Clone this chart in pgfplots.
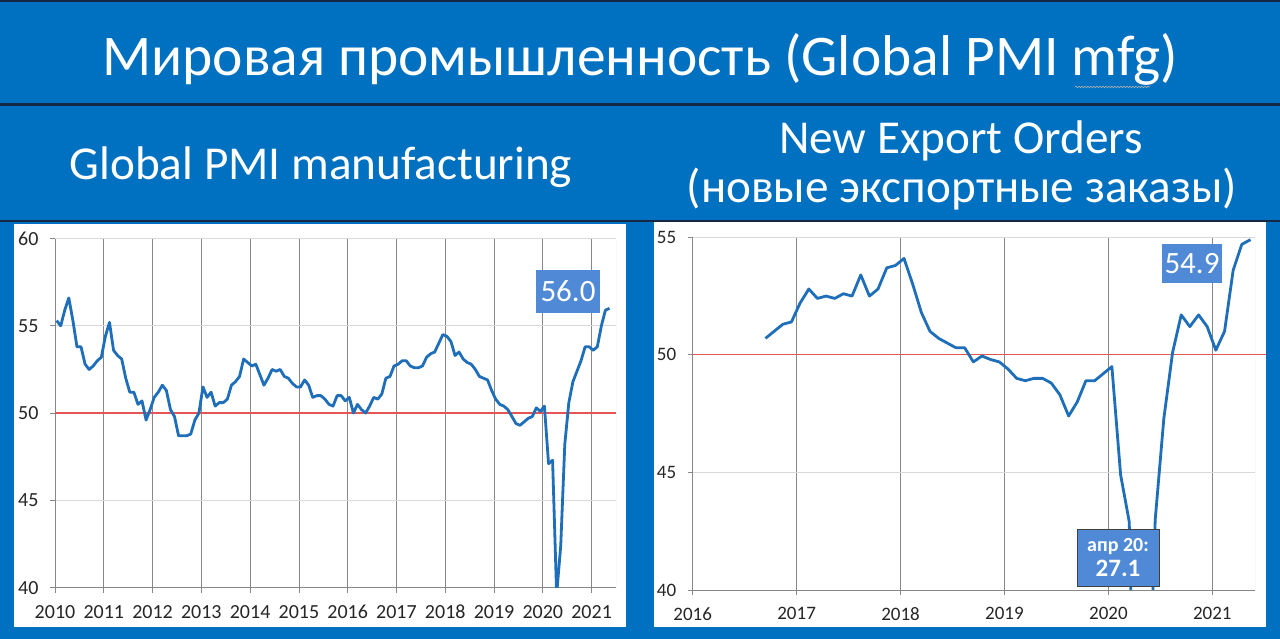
\documentclass[border=0pt]{standalone}
\usepackage{pgfplots}
\pgfplotsset{compat=1.18}
\usepackage{pgfplotstable}
\usepackage{fontspec}
\setmainfont{Carlito}
\usetikzlibrary{decorations.pathmorphing}
\definecolor{bg}{RGB}{0,112,192}
\definecolor{darkline}{RGB}{20,40,70}
\definecolor{series}{RGB}{30,110,185}
\definecolor{boxblue}{RGB}{80,138,214}
\definecolor{refred}{RGB}{230,85,85}
\definecolor{vgrid}{RGB}{135,135,135}
\definecolor{hgrid}{RGB}{217,217,217}

\pgfplotstableread{
x y
2010.033 55.3
2010.117 55.0
2010.200 55.9
2010.283 56.6
2010.367 55.3
2010.450 53.8
2010.533 53.8
2010.617 52.8
2010.700 52.5
2010.783 52.7
2010.867 53.0
2010.950 53.2
2011.033 54.4
2011.117 55.2
2011.200 53.6
2011.283 53.3
2011.367 53.1
2011.450 52.0
2011.533 51.2
2011.617 51.2
2011.700 50.5
2011.783 50.7
2011.867 49.6
2011.950 50.2
2012.033 50.9
2012.117 51.2
2012.200 51.6
2012.283 51.3
2012.367 50.2
2012.450 49.8
2012.533 48.7
2012.617 48.7
2012.700 48.7
2012.783 48.8
2012.867 49.6
2012.950 50.0
2013.033 51.5
2013.117 50.9
2013.200 51.2
2013.283 50.4
2013.367 50.6
2013.450 50.6
2013.533 50.8
2013.617 51.6
2013.700 51.8
2013.783 52.1
2013.867 53.1
2013.950 52.9
2014.033 52.7
2014.117 52.8
2014.200 52.2
2014.283 51.6
2014.367 52.0
2014.450 52.5
2014.533 52.4
2014.617 52.5
2014.700 52.1
2014.783 52.0
2014.867 51.7
2014.950 51.5
2015.033 51.5
2015.117 51.9
2015.200 51.6
2015.283 50.9
2015.367 51.0
2015.450 51.0
2015.533 50.8
2015.617 50.5
2015.700 50.4
2015.783 51.0
2015.867 51.0
2015.950 50.7
2016.033 50.9
2016.117 50.0
2016.200 50.5
2016.283 50.2
2016.367 50.0
2016.450 50.4
2016.533 50.9
2016.617 50.8
2016.700 51.1
2016.783 52.0
2016.867 52.1
2016.950 52.7
2017.033 52.8
2017.117 53.0
2017.200 53.0
2017.283 52.7
2017.367 52.6
2017.450 52.6
2017.533 52.7
2017.617 53.2
2017.700 53.4
2017.783 53.5
2017.867 54.0
2017.950 54.5
2018.033 54.4
2018.117 54.1
2018.200 53.3
2018.283 53.5
2018.367 53.1
2018.450 52.9
2018.533 52.8
2018.617 52.5
2018.700 52.1
2018.783 52.0
2018.867 51.9
2018.950 51.3
2019.033 50.8
2019.117 50.5
2019.200 50.4
2019.283 50.2
2019.367 49.8
2019.450 49.4
2019.533 49.3
2019.617 49.5
2019.700 49.7
2019.783 49.8
2019.867 50.3
2019.950 50.1
2020.033 50.4
2020.117 47.1
2020.200 47.3
2020.283 39.6
2020.367 42.4
2020.450 48.2
2020.533 50.6
2020.617 51.8
2020.700 52.4
2020.783 53.0
2020.867 53.8
2020.950 53.8
2021.033 53.6
2021.117 53.8
2021.200 55.0
2021.283 55.9
2021.367 56.0
}\pmi

\pgfplotstableread{
x y
2016.700 50.7
2016.783 51.0
2016.867 51.3
2016.950 51.4
2017.033 52.2
2017.117 52.8
2017.200 52.4
2017.283 52.5
2017.367 52.4
2017.450 52.6
2017.533 52.5
2017.617 53.4
2017.700 52.5
2017.783 52.8
2017.867 53.7
2017.950 53.8
2018.033 54.1
2018.117 53.0
2018.200 51.8
2018.283 51.0
2018.367 50.7
2018.450 50.5
2018.533 50.3
2018.617 50.3
2018.700 49.7
2018.783 49.95
2018.867 49.8
2018.950 49.7
2019.033 49.4
2019.117 49.0
2019.200 48.9
2019.283 49.0
2019.367 49.0
2019.450 48.8
2019.533 48.3
2019.617 47.4
2019.700 48.0
2019.783 48.9
2019.867 48.9
2019.950 49.2
2020.033 49.5
2020.117 44.9
2020.200 42.9
2020.283 27.1
2020.367 31.5
2020.450 43.0
2020.533 47.3
2020.617 50.1
2020.700 51.7
2020.783 51.2
2020.867 51.7
2020.950 51.2
2021.033 50.2
2021.117 51.0
2021.200 53.6
2021.283 54.7
2021.367 54.9
}\neo

\pgfplotsset{pmistyle/.style={
  scale only axis,
  axis lines*=left,
  tick align=outside,
  major tick length=5pt,
  tick style={vgrid, line width=0.8pt},
  grid=major,
  x grid style={vgrid, line width=0.8pt},
  y grid style={hgrid, line width=0.8pt},
  axis line style={vgrid, line width=0.8pt},
  /pgf/number format/assume math mode=true,
  /pgf/number format/1000 sep={},
  tick label style={black!85},
  xticklabel style={yshift=-9pt},
  yticklabel style={xshift=-8pt},
}}

\begin{document}
\begin{tikzpicture}
\fill[bg] (0,0) rectangle (1280pt,639pt);
\fill[darkline] (0,637pt) rectangle (1280pt,639pt);
\fill[darkline] (0,533pt) rectangle (1280pt,536pt);
\fill[darkline] (0,417pt) rectangle (1280pt,419pt);
\fill[white] (14pt,12pt) rectangle (626pt,415pt);
\fill[white] (654pt,12pt) rectangle (1266pt,417pt);

\node[white, anchor=base, inner sep=0pt, font=\fontsize{57.5}{60}\selectfont] at (640pt,563pt) {Мировая промышленность (Global PMI mfg)};
\draw[gray!60!white, line width=0.6pt, decorate, decoration={snake, amplitude=0.8pt, segment length=3pt}] (1075pt,552pt) -- (1150pt,552pt);

\node[white, anchor=base, inner sep=0pt, font=\fontsize{47.2}{50}\selectfont] at (321pt,459pt) {Global PMI manufacturing};
\node[white, anchor=base, inner sep=0pt, font=\fontsize{47.2}{50}\selectfont] at (961pt,485pt) {New Export Orders};
\node[white, anchor=base, inner sep=0pt, font=\fontsize{47.2}{50}\selectfont] at (962pt,436pt) {(новые экспортные заказы)};

\begin{axis}[pmistyle,
  at={(55pt,51.4pt)}, anchor=south west,
  width=561pt, height=349pt,
  xmin=2010, xmax=2021.5, ymin=40, ymax=60,
  xtick={2010,2011,...,2021}, ytick={40,45,50,55,60},
  tick label style={font=\fontsize{20}{20}\selectfont},
]
\addplot[refred, line width=1.3pt, forget plot] coordinates {(2010,50) (2021.5,50)};
\addplot[series, line width=2.8pt, line join=round] table[x=x,y=y] {\pmi};
\draw[hgrid, line width=0.8pt] (rel axis cs:1,0) -- (rel axis cs:1,1);
\end{axis}

\begin{axis}[pmistyle,
  at={(692.7pt,49pt)}, anchor=south west,
  width=562.3pt, height=352.7pt,
  xmin=2016, xmax=2021.41, ymin=40, ymax=55,
  xtick={2016,2017,...,2021}, ytick={40,45,50,55},
  tick label style={font=\fontsize{19}{19}\selectfont},
]
\addplot[refred, line width=1.2pt, forget plot] coordinates {(2016,50) (2021.41,50)};
\addplot[series, line width=2.8pt, line join=round] table[x=x,y=y] {\neo};
\draw[hgrid, line width=0.8pt] (rel axis cs:1,0) -- (rel axis cs:1,1);
\end{axis}
\draw[refred, line width=1.2pt] (1255pt,284.1pt) -- (1266pt,284.1pt);

\node[fill=boxblue, text=white, inner sep=0pt, minimum width=64pt, minimum height=43pt, font=\fontsize{31}{31}\selectfont] at (568pt,347.5pt) {56.0};
\node[fill=boxblue, text=white, inner sep=0pt, minimum width=60pt, minimum height=39pt, font=\fontsize{31}{31}\selectfont] at (1192pt,375.5pt) {54.9};
\node[fill=boxblue, draw=black!75, line width=0.8pt, text=white, inner sep=0pt, minimum width=82pt, minimum height=57pt, align=center, font=\bfseries] at (1118pt,81.5pt) {\fontsize{20}{22}\selectfont апр 20:\\[4pt]\fontsize{25}{25}\selectfont 27.1};

\pgfresetboundingbox
\useasboundingbox (0,0) rectangle (1280pt,639pt);
\end{tikzpicture}
\end{document}
